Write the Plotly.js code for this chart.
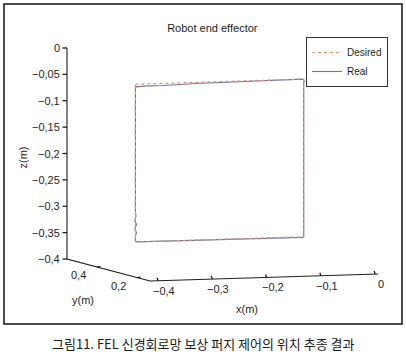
<!DOCTYPE html>
<html><head><meta charset="utf-8">
<script src="https://cdn.plot.ly/plotly-3.0.1.min.js"></script>
<style>html,body{margin:0;padding:0;background:#fff}#chart{width:406px;height:359px}</style>
</head><body><div id="chart"></div><script>
// ---- data (m) ----
const desiredX = [-0.370, -0.060, -0.060, -0.370, -0.370];
const desiredY = [0.330, 0.330, 0.330, 0.330, 0.330];
const desiredZ = [-0.048, -0.048, -0.347, -0.347, -0.048];
const realX = [-0.370, -0.368, -0.355, -0.320, -0.250, -0.150, -0.080, -0.062, -0.059, -0.060, -0.060, -0.060, -0.062, -0.150, -0.250, -0.320, -0.368, -0.370, -0.370, -0.368, -0.371, -0.368, -0.371, -0.369, -0.370, -0.370, -0.370];
const realY = [0.330, 0.330, 0.330, 0.330, 0.330, 0.330, 0.330, 0.330, 0.330, 0.330, 0.330, 0.330, 0.330, 0.330, 0.330, 0.330, 0.330, 0.330, 0.330, 0.330, 0.330, 0.330, 0.330, 0.330, 0.330, 0.330, 0.330];
const realZ = [-0.050, -0.053, -0.052, -0.052, -0.050, -0.049, -0.048, -0.048, -0.051, -0.056, -0.200, -0.347, -0.348, -0.348, -0.348, -0.348, -0.347, -0.344, -0.335, -0.330, -0.322, -0.314, -0.306, -0.298, -0.290, -0.150, -0.050];
const xTicks = [-0.4, -0.3, -0.2, -0.1, 0];
const yTicks = [0.2, 0.4];
const zTicks = [0, -0.05, -0.1, -0.15, -0.2, -0.25, -0.3, -0.35, -0.4];
const xRange = [-0.415, 0.005];
const yRange = [0.135, 0.55];
const zRange = [-0.4, 0];
const chartTitle = 'Robot end effector';
const caption = '그림11. FEL 신경회로망 보상 퍼지 제어의 위치 추종 결과';

// ---- orthographic view of the 3-D box (screen px) ----
const origin = [150, 281];          // (xmin, ymin, zmin)
const vx = [228, -7], vy = [-83, -22], vz = [0, -211];
function P(x, y, z) {
  const fx = (x - xRange[0]) / (xRange[1] - xRange[0]);
  const fy = (y - yRange[0]) / (yRange[1] - yRange[0]);
  const fz = (z - zRange[0]) / (zRange[1] - zRange[0]);
  return [origin[0] + fx * vx[0] + fy * vy[0] + fz * vz[0],
          origin[1] + fx * vx[1] + fy * vy[1] + fz * vz[1]];
}
function proj(xs, ys, zs) {
  const u = [], v = [];
  xs.forEach((x, i) => { const p = P(x, ys[i], zs[i]); u.push(p[0]); v.push(p[1]); });
  return {u, v};
}
function fmt(n) { return String(n).replace('.', ',').replace('-', '\u2212'); }

const font = 'Liberation Sans, Arial, Helvetica, sans-serif';
const ink = '#1e1e1e';
const traces = [];
const annotations = [];

const xmin = xRange[0], xmax = xRange[1], ymin = yRange[0], ymax = yRange[1], zmin = zRange[0], zmax = zRange[1];
// axis lines: z axis (back-left), y axis, x axis (front)
const axisPts = [P(xmin, ymax, zmax), P(xmin, ymax, zmin), P(xmin, ymin, zmin), P(xmax, ymin, zmin)];
traces.push({type: 'scatter', mode: 'lines', showlegend: false, hoverinfo: 'skip',
  x: axisPts.map(p => p[0]), y: axisPts.map(p => p[1]),
  line: {color: ink, width: 1.1}});

// ticks
const tu = [], tv = [];
function addTick(p, d) { tu.push(p[0], p[0] + d[0], null); tv.push(p[1], p[1] + d[1], null); }
xTicks.forEach(t => addTick(P(t, ymin, zmin), [-1.2, -3]));
yTicks.forEach(t => addTick(P(xmin, t, zmin), [3.5, -0.4]));
zTicks.forEach(t => addTick(P(xmin, ymax, t), [-4.5, 0]));
traces.push({type: 'scatter', mode: 'lines', showlegend: false, hoverinfo: 'skip',
  x: tu, y: tv, line: {color: ink, width: 1.3}});

// tick labels
const tf = {family: font, size: 11, color: ink};
xTicks.forEach(t => { const p = P(t, ymin, zmin);
  annotations.push({x: p[0], y: p[1], xref: 'x', yref: 'y', text: fmt(t), showarrow: false,
    xanchor: 'center', yanchor: 'middle', xshift: 6, yshift: -10, font: tf}); });
yTicks.forEach(t => { const p = P(xmin, t, zmin);
  annotations.push({x: p[0], y: p[1], xref: 'x', yref: 'y', text: fmt(t), showarrow: false,
    xanchor: 'center', yanchor: 'middle', xshift: -19, yshift: -8, font: tf}); });
zTicks.forEach(t => { const p = P(xmin, ymax, t);
  annotations.push({x: p[0], y: p[1], xref: 'x', yref: 'y', text: fmt(t), showarrow: false,
    xanchor: 'right', yanchor: 'middle', xshift: -5, yshift: 0, font: tf}); });

// axis titles
const pxm = P((xmin + xmax) / 2, ymin, zmin), pym = P(xmin, (ymin + ymax) / 2, zmin), pzm = P(xmin, ymax, (zmin + zmax) / 2);
annotations.push({x: pxm[0], y: pxm[1], xref: 'x', yref: 'y', text: 'x(m)', showarrow: false,
  xanchor: 'center', yanchor: 'middle', xshift: -17, yshift: -31, font: tf});
annotations.push({x: pym[0], y: pym[1], xref: 'x', yref: 'y', text: 'y(m)', showarrow: false,
  xanchor: 'center', yanchor: 'middle', xshift: -26, yshift: -30, font: tf});
annotations.push({x: pzm[0], y: pzm[1], xref: 'x', yref: 'y', text: 'z(m)', showarrow: false,
  xanchor: 'center', yanchor: 'middle', xshift: -45, yshift: -4, textangle: -90, font: tf});

// data series
const real = proj(realX, realY, realZ);
const des = proj(desiredX, desiredY, desiredZ);
traces.push({type: 'scatter', mode: 'lines', name: 'Real', legendrank: 2, hoverinfo: 'skip',
  x: real.u, y: real.v, line: {color: '#6c76a8', width: 1.1}});
traces.push({type: 'scatter', mode: 'lines', name: 'Desired', legendrank: 1, hoverinfo: 'skip',
  x: des.u, y: des.v, line: {color: '#e8906e', width: 1.2, dash: 'dot'}});

// caption
annotations.push({text: caption, xref: 'paper', yref: 'paper', x: 0.5, y: 1 - 343 / 359,
  xanchor: 'center', yanchor: 'middle', showarrow: false,
  font: {family: 'Noto Sans CJK KR, sans-serif', size: 13, color: '#1a1a1a'}});

const layout = {
  width: 406, height: 359,
  margin: {l: 0, r: 0, t: 0, b: 0},
  paper_bgcolor: '#fff', plot_bgcolor: 'rgba(0,0,0,0)',
  font: {family: font, size: 11, color: ink},
  title: {text: chartTitle, x: 0.523, xanchor: 'center', y: 1 - 28 / 359, yanchor: 'middle',
          font: {family: font, size: 11, color: ink}},
  showlegend: true,
  legend: {x: 306 / 406, y: 1 - 37 / 359, xanchor: 'left', yanchor: 'top', bgcolor: '#fff',
           bordercolor: '#333', borderwidth: 1, font: {family: font, size: 10, color: ink},
           itemwidth: 30, traceorder: 'normal'},
  xaxis: {range: [0, 406], domain: [0, 1], visible: false, fixedrange: true},
  yaxis: {range: [359, 0], domain: [0, 1], visible: false, fixedrange: true},
  shapes: [{type: 'rect', xref: 'paper', yref: 'paper', x0: 4 / 406, x1: 402 / 406, y0: 1 - 324 / 359, y1: 1 - 4 / 359,
            line: {color: '#111', width: 1.5}, fillcolor: 'rgba(0,0,0,0)', layer: 'below'}],
  annotations: annotations
};
Plotly.newPlot('chart', traces, layout, {displayModeBar: false, staticPlot: true});
</script></body></html>
